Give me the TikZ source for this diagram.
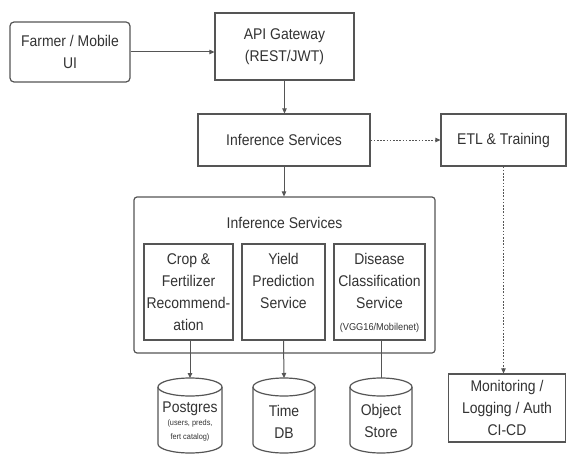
\documentclass[tikz,border=0pt]{standalone}
\usepackage{fontspec}
\setmainfont{Liberation Sans}[FakeStretch=0.9]
\newfontfamily\smallfam{Liberation Sans}[FakeStretch=0.92]
\usetikzlibrary{arrows.meta}
\definecolor{ln}{HTML}{555555}
\definecolor{tx}{HTML}{333333}
\tikzset{
  box/.style={draw=ln, line width=1.2pt, fill=white, inner sep=0pt},
  txt/.style={text=tx, font=\fontsize{15.5}{22}\selectfont, align=center, inner sep=0pt},
  small/.style={font=\smallfam\fontsize{8}{14}\selectfont},
  vsmall/.style={font=\smallfam\fontsize{10}{12}\selectfont},
  conn/.style={draw=ln, line width=1pt, -{Triangle[length=5pt,width=4.5pt]}},
  dconn/.style={conn, line width=0.8pt, dash pattern=on 1.6pt off 1.6pt},
  cyl/.style={draw=ln, line width=1.2pt, fill=white}
}
\begin{document}
\begin{tikzpicture}[x=1pt,y=1pt]
\useasboundingbox (0,0) rectangle (570,-457);
\fill[white] (0,0) rectangle (570,-457);

% top row
\node[box, rounded corners=4pt, minimum width=120pt, minimum height=60pt] (farmer) at (70,-52) {};
\node[txt] (farmerl) at (farmer) {Farmer / Mobile\\UI};
\node[box, minimum width=139pt, minimum height=67pt] (api) at (284.5,-46.5) {};
\node[txt] (apil) at (api) {API Gateway\\(REST/JWT)};

% second row
\node[box, minimum width=172pt, minimum height=52pt] (inf) at (284,-140) {};
\node[txt] (infl) at (inf) {Inference Services};
\node[box, minimum width=125pt, minimum height=52pt] (etl) at (503.5,-140) {};
\node[txt] (etll) at (etl) {ETL \& Training};

% container
\node[box, rounded corners=3pt, minimum width=301pt, minimum height=156pt] (cont) at (284.5,-275) {};
\node[txt] (contl) at (284.5,-223) {Inference Services};

\node[box, minimum width=89pt, minimum height=96pt] (crop) at (188.5,-292) {};
\node[txt, anchor=north] (cropl) at ([yshift=-10pt]crop.north) {Crop \&\\Fertilizer\\Recommend-\\ation};
\node[box, minimum width=83pt, minimum height=96pt] (yield) at (283.5,-292) {};
\node[txt, anchor=north] (yieldl) at ([yshift=-10pt]yield.north) {Yield\\Prediction\\Service};
\node[box, minimum width=91pt, minimum height=96pt] (dis) at (379.5,-292) {};
\node[txt, anchor=north] (disl) at ([yshift=-10pt]dis.north) {Disease\\Classification\\Service};
\node[txt, vsmall] (disv) at (379.5,-328) {(VGG16/Mobilenet)};

% monitoring
\node[box, minimum width=117pt, minimum height=68pt] (mon) at (507,-408) {};
\node[txt] (monl) at (mon) {Monitoring /\\Logging / Auth\\CI-CD};

% cylinders
\draw[cyl] (158,-387) -- (158,-444) arc (180:360:32 and 9) -- (222,-387);
\draw[cyl] (190,-387) ellipse [x radius=32, y radius=9];
\coordinate (pgtop) at (190,-378);
\node[txt] (pgl) at (190,-409) {Postgres};
\node[txt, small] (pgs) at (190,-430) {(users, preds,\\fert catalog)};

\draw[cyl] (253,-387) -- (253,-444) arc (180:360:31 and 9) -- (315,-387);
\draw[cyl] (284,-387) ellipse [x radius=31, y radius=9];
\coordinate (tdtop) at (284,-378);
\node[txt] (tdl) at (284,-422) {Time\\DB};

\draw[cyl] (350,-387) -- (350,-444) arc (180:360:31 and 9) -- (412,-387);
\draw[cyl] (381,-387) ellipse [x radius=31, y radius=9];
\coordinate (ostop) at (381,-378);
\node[txt] (osl) at (381,-421) {Object\\Store};

% connectors
\draw[conn] (farmer.east) -- (farmer.east -| api.west);
\draw[conn] (api.south) -- (api.south |- inf.north);
\draw[conn] (inf.south) -- (inf.south |- cont.north);
\draw[dconn] (inf.east) -- (etl.west);
\draw[dconn] (etl.south) -- (etl.south |- mon.north);
\draw[conn] (crop.south -| pgtop) -- (pgtop);
\draw[conn] (yield.south) -- (tdtop);
\draw[draw=ln, line width=1pt] (dis.south -| ostop) -- (ostop);
\end{tikzpicture}
\end{document}
